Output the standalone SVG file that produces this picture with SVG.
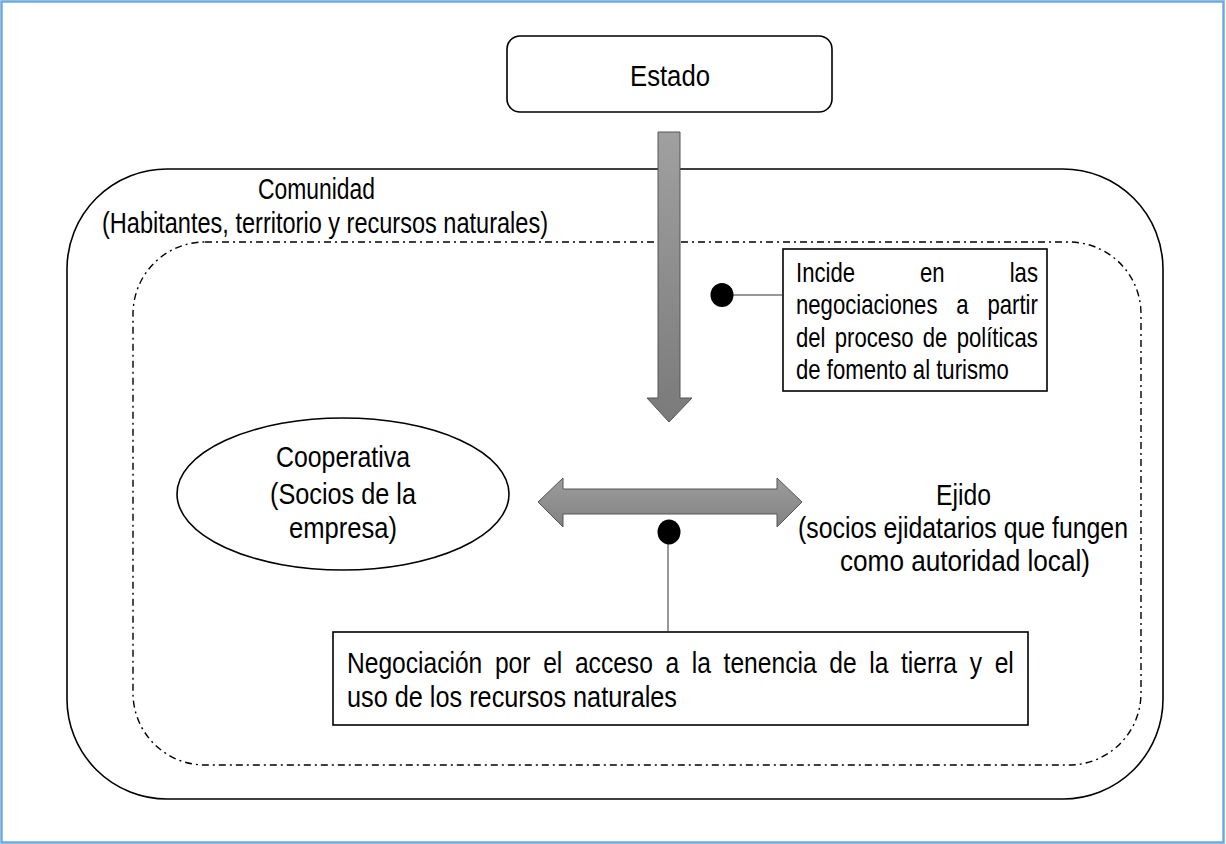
<svg xmlns="http://www.w3.org/2000/svg" width="1226" height="844" viewBox="0 0 1226 844">
<style>
text{font-family:"Liberation Sans",Arial,sans-serif;fill:#000}
.big{font-size:30px}
.mid{font-size:29px}
.sm{font-size:27px}
.line{stroke:#000;stroke-width:1.6;fill:none}
.thin{stroke:#333;stroke-width:1;fill:none}
.arrow{fill:url(#g);stroke:#555;stroke-width:1}
</style>
<defs>
<linearGradient id="g" x1="0" y1="0" x2="0" y2="1">
<stop offset="0" stop-color="#a0a0a0"/>
<stop offset="1" stop-color="#7a7a7a"/>
</linearGradient>
<linearGradient id="gh" x1="0" y1="0" x2="0" y2="1">
<stop offset="0" stop-color="#9c9c9c"/>
<stop offset="1" stop-color="#828282"/>
</linearGradient>
</defs>
<rect x="0" y="0" width="1226" height="844" fill="#fff"/>
<rect x="1.5" y="1.5" width="1222" height="841" fill="none" stroke="#6fa8dc" stroke-width="2.5"/>

<g id="comunidad">
<rect x="67" y="169" width="1096" height="630" rx="100" ry="100" class="line"/>
<rect x="133" y="242" width="1008" height="523" rx="72" ry="72" fill="none" stroke="#000" stroke-width="1.4" stroke-dasharray="7 4 2 4"/>
<text class="mid" x="258" y="199" textLength="117" lengthAdjust="spacingAndGlyphs">Comunidad</text>
<text class="mid" x="102" y="233" textLength="446" lengthAdjust="spacingAndGlyphs">(Habitantes, territorio y recursos naturales)</text>
</g>

<g id="estado">
<rect x="507" y="36" width="325" height="76" rx="13" ry="13" class="line"/>
<text class="big" x="630" y="86" textLength="80" lengthAdjust="spacingAndGlyphs">Estado</text>
</g>

<g id="cooperativa">
<ellipse cx="343" cy="494" rx="166" ry="76" class="line"/>
<text class="big" x="276" y="467" textLength="134" lengthAdjust="spacingAndGlyphs">Cooperativa</text>
<text class="big" x="270" y="504" textLength="146" lengthAdjust="spacingAndGlyphs">(Socios de la</text>
<text class="big" x="289" y="538" textLength="108" lengthAdjust="spacingAndGlyphs">empresa)</text>
</g>

<g id="ejido">
<text class="big" x="936" y="505" textLength="55" lengthAdjust="spacingAndGlyphs">Ejido</text>
<text class="big" x="798" y="538" textLength="330" lengthAdjust="spacingAndGlyphs">(socios ejidatarios que fungen</text>
<text class="big" x="840" y="571" textLength="250" lengthAdjust="spacingAndGlyphs">como autoridad local)</text>
</g>

<g id="incide">
<rect x="783" y="249" width="264" height="142" fill="#fff" stroke="#000" stroke-width="1.6"/>
<text class="sm" transform="translate(796,282) scale(0.82,1)" word-spacing="71.8">Incide en las</text>
<text class="sm" transform="translate(796,314) scale(0.82,1)" word-spacing="15.5">negociaciones a partir</text>
<text class="sm" transform="translate(796,347) scale(0.82,1)" word-spacing="3.8">del proceso de políticas</text>
<text class="sm" transform="translate(796,379) scale(0.82,1)">de fomento al turismo</text>
</g>

<g id="negociacion">
<rect x="333" y="632" width="695" height="93" fill="#fff" stroke="#000" stroke-width="1.6"/>
<text class="mid" transform="translate(347,673) scale(0.848,1)" word-spacing="6.88">Negociación por el acceso a la tenencia de la tierra y el</text>
<text class="mid" x="347" y="707" textLength="330" lengthAdjust="spacingAndGlyphs">uso de los recursos naturales</text>
</g>

<g id="connectors">
<path class="arrow" d="M658 132 H680 V398 H692 L669 422 L647 398 H658 Z"/>
<path fill="url(#gh)" stroke="#555" stroke-width="1" d="M538 502 L563 478 V489 H777 V478 L802 502 L777 527 V514 H563 V527 Z"/>
<line x1="733" y1="295" x2="783" y2="295" class="thin"/>
<ellipse cx="722" cy="295" rx="11.5" ry="12" fill="#000"/>
<line x1="668" y1="540" x2="668" y2="632" class="thin"/>
<ellipse cx="669" cy="532" rx="11.5" ry="12.5" fill="#000"/>
</g>
</svg>
